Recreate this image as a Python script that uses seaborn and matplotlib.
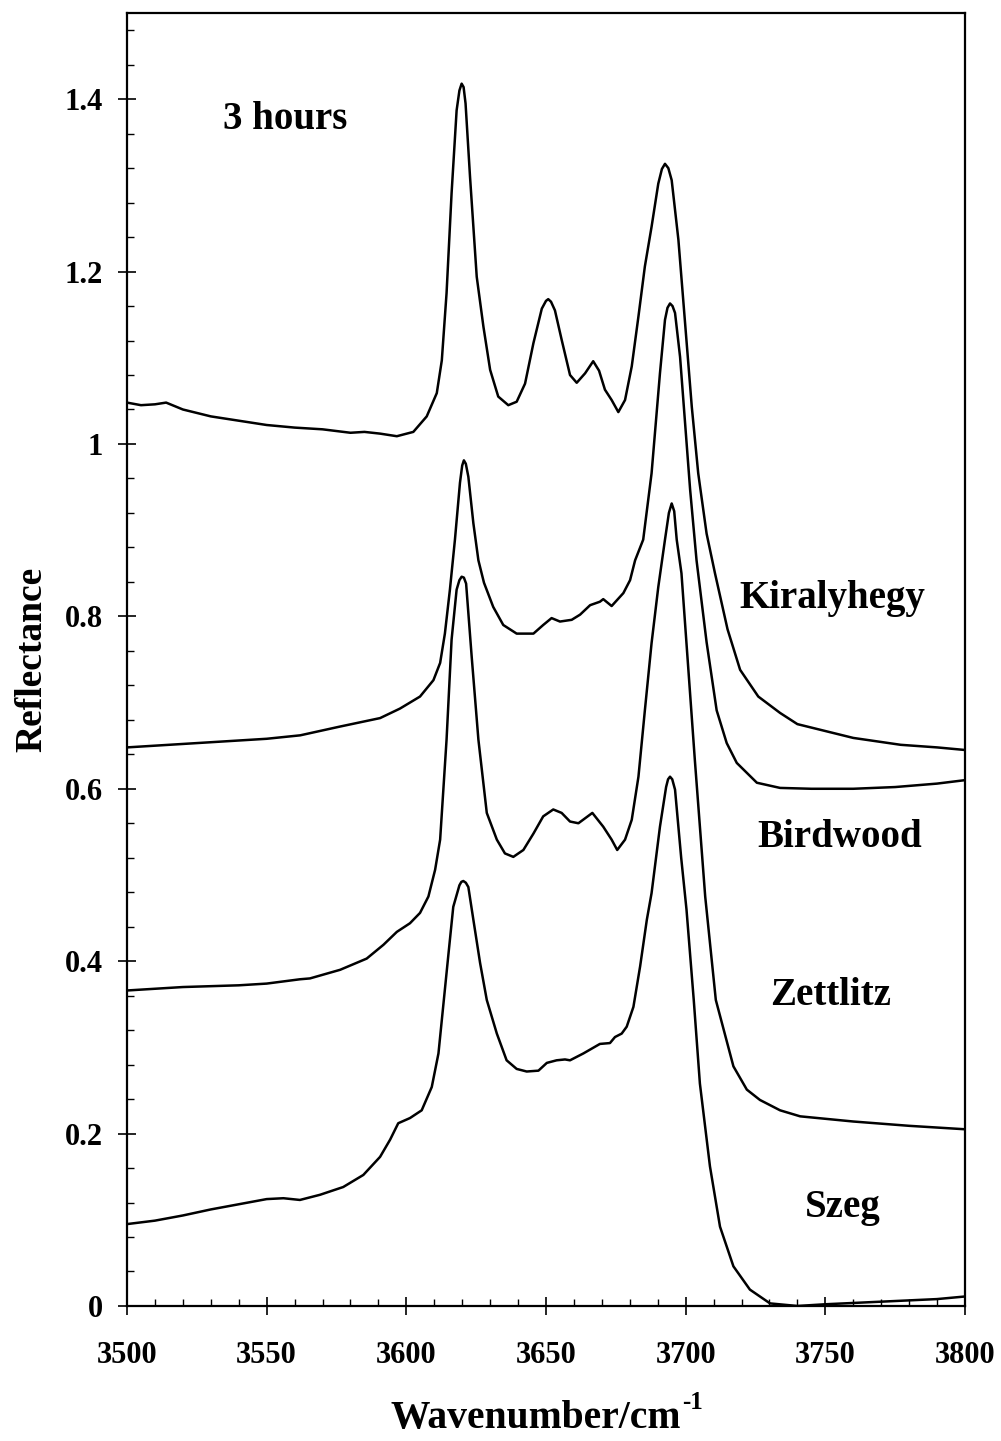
# IR reflectance spectra of kaolinites after 3 hours - recreated with seaborn
import pandas as pd
import numpy as np
import matplotlib
matplotlib.use('Agg')
import matplotlib.pyplot as plt
from matplotlib.ticker import MultipleLocator, FixedLocator, FixedFormatter
import seaborn as sns

# ============================================
# DATA
# ============================================
kiraly_wn = [3500, 3505, 3510, 3514, 3520, 3525, 3530, 3540, 3550, 3560, 3570, 3580, 3585,
             3590.6, 3596.6, 3602.5, 3607.3, 3610.9, 3612.7, 3614.4, 3616.2, 3618.0, 3619.0,
             3619.8, 3620.5, 3621.2, 3622.8, 3625.2, 3627.6, 3630.0, 3632.9, 3636.5, 3639.5,
             3642.5, 3645.5, 3648.5, 3650.0, 3650.8, 3651.8, 3653.2, 3655.6, 3658.6, 3661.0,
             3664.0, 3666.9, 3669.0, 3671.1, 3673.5, 3675.9, 3678.3, 3680.7, 3683.1, 3685.4,
             3687.8, 3690.2, 3691.5, 3692.6, 3693.8, 3695.0, 3697.4, 3699.8, 3702.2, 3704.5,
             3707.5, 3710.5, 3715.0, 3719.5, 3726.0, 3733.8, 3740, 3750, 3760, 3777, 3790, 3800]
kiraly_r = [1.048, 1.045, 1.046, 1.048, 1.040, 1.036, 1.032, 1.027, 1.022, 1.019, 1.017, 1.013, 1.014,
            1.012, 1.009, 1.014, 1.032, 1.059, 1.097, 1.175, 1.291, 1.387, 1.410,
            1.418, 1.414, 1.395, 1.310, 1.194, 1.136, 1.086, 1.055, 1.045, 1.049,
            1.070, 1.117, 1.157, 1.166, 1.168, 1.165, 1.155, 1.121, 1.080, 1.071,
            1.082, 1.096, 1.085, 1.063, 1.051, 1.037, 1.051, 1.090, 1.148, 1.206,
            1.252, 1.302, 1.319, 1.325, 1.320, 1.306, 1.237, 1.140, 1.043, 0.966,
            0.896, 0.850, 0.785, 0.738, 0.707, 0.688, 0.675, 0.667, 0.659, 0.651, 0.648, 0.645]

bird_wn = [3500, 3510, 3520, 3530, 3540, 3550, 3562, 3576, 3590.6, 3597.7, 3604.9, 3609.7,
           3612.1, 3613.8, 3615.6, 3617.4, 3619.2, 3620.0, 3620.6, 3621.3, 3622.2, 3624.0,
           3625.8, 3627.8, 3631.1, 3634.7, 3639.5, 3645.5, 3649.0, 3652.0, 3655.0, 3659.2,
           3662.2, 3665.8, 3669.3, 3670.5, 3673.5, 3677.7, 3680.1, 3681.9, 3684.8, 3687.8,
           3690.8, 3692.6, 3693.5, 3694.4, 3695.3, 3696.2, 3698.0, 3699.8, 3701.6, 3703.9,
           3707.5, 3711.1, 3714.7, 3718.3, 3725.5, 3733.8, 3745, 3760, 3775, 3790, 3800]
bird_r = [0.648, 0.650, 0.652, 0.654, 0.656, 0.658, 0.662, 0.672, 0.682, 0.693, 0.707, 0.726,
          0.746, 0.780, 0.831, 0.889, 0.955, 0.975, 0.981, 0.977, 0.962, 0.908,
          0.865, 0.839, 0.811, 0.790, 0.780, 0.780, 0.790, 0.798, 0.794, 0.796,
          0.802, 0.813, 0.817, 0.820, 0.812, 0.827, 0.842, 0.865, 0.889, 0.966,
          1.082, 1.144, 1.158, 1.163, 1.160, 1.152, 1.101, 1.024, 0.947, 0.865,
          0.770, 0.691, 0.653, 0.630, 0.607, 0.601, 0.600, 0.600, 0.602, 0.606, 0.610]

zett_wn = [3500, 3510, 3520, 3530, 3540, 3550, 3561.9, 3565.5, 3576.3, 3585.8, 3591.8, 3596.6,
           3601.3, 3604.9, 3607.9, 3610.3, 3612.1, 3614.4, 3616.2, 3618.0, 3619.0, 3619.8,
           3620.6, 3621.4, 3623.4, 3625.8, 3628.8, 3632.4, 3635.3, 3638.3, 3641.9, 3645.5,
           3649.0, 3652.6, 3655.6, 3658.6, 3661.6, 3666.6, 3670.5, 3673.5, 3675.5, 3678.3,
           3680.7, 3683.1, 3685.4, 3687.8, 3690.2, 3692.6, 3694.0, 3695.0, 3695.9, 3696.8,
           3698.5, 3703.3, 3707.0, 3710.8, 3717.1, 3721.9, 3726.6, 3733.8, 3741, 3760, 3780, 3800]
zett_r = [0.366, 0.368, 0.370, 0.371, 0.372, 0.374, 0.379, 0.380, 0.390, 0.403, 0.419, 0.434,
          0.444, 0.456, 0.475, 0.506, 0.541, 0.657, 0.773, 0.831, 0.842, 0.846,
          0.845, 0.838, 0.753, 0.657, 0.572, 0.541, 0.525, 0.521, 0.529, 0.548,
          0.568, 0.576, 0.572, 0.562, 0.560, 0.572, 0.556, 0.541, 0.529, 0.541,
          0.564, 0.614, 0.691, 0.769, 0.834, 0.889, 0.920, 0.931, 0.922, 0.889,
          0.850, 0.633, 0.475, 0.355, 0.278, 0.251, 0.239, 0.227, 0.220, 0.214, 0.209, 0.205]

szeg_wn = [3500, 3510, 3520, 3530, 3540, 3550, 3556, 3561.9, 3569.1, 3577.4, 3584.6, 3590.6,
           3594.2, 3597.1, 3601.3, 3605.5, 3609.1, 3611.5, 3613.3, 3615.1, 3616.8, 3619.0,
           3619.7, 3620.4, 3621.3, 3622.2, 3624.0, 3626.4, 3628.8, 3632.4, 3635.9, 3639.5,
           3643.1, 3647.3, 3650.3, 3653.8, 3656.8, 3658.6, 3663.4, 3669.3, 3672.9, 3674.7,
           3677.1, 3678.9, 3681.3, 3683.7, 3686.1, 3687.8, 3690.8, 3693.0, 3693.7, 3694.4,
           3695.2, 3696.2, 3698.4, 3700.3, 3702.9, 3705.1, 3708.7, 3712.3, 3717.1, 3723.0,
           3730.2, 3740, 3750, 3770, 3790, 3800]
szeg_r = [0.095, 0.099, 0.105, 0.112, 0.118, 0.124, 0.125, 0.123, 0.129, 0.138, 0.152, 0.173,
          0.193, 0.212, 0.218, 0.227, 0.254, 0.293, 0.351, 0.409, 0.463, 0.488,
          0.492, 0.493, 0.491, 0.486, 0.448, 0.398, 0.355, 0.316, 0.285, 0.275,
          0.272, 0.273, 0.282, 0.285, 0.286, 0.285, 0.293, 0.304, 0.305, 0.312,
          0.316, 0.324, 0.347, 0.394, 0.448, 0.479, 0.556, 0.602, 0.611, 0.614,
          0.611, 0.599, 0.520, 0.460, 0.355, 0.258, 0.162, 0.092, 0.046, 0.019,
          0.003, 0.000, 0.002, 0.005, 0.008, 0.011]

sample_names = ['Kiralyhegy', 'Birdwood', 'Zettlitz', 'Szeg']
label_x = [3752.4, 3755.3, 3752.0, 3756.3]
label_y = [0.821, 0.543, 0.360, 0.114]

y_major = [0, 0.2, 0.4, 0.6, 0.8, 1.0, 1.2, 1.4]
y_major_labels = ['0', '0.2', '0.4', '0.6', '0.8', '1', '1.2', '1.4']

# long table for seaborn
df = pd.concat([
    pd.DataFrame({'sample': 'Kiralyhegy', 'wn': kiraly_wn, 'r': kiraly_r}),
    pd.DataFrame({'sample': 'Birdwood', 'wn': bird_wn, 'r': bird_r}),
    pd.DataFrame({'sample': 'Zettlitz', 'wn': zett_wn, 'r': zett_r}),
    pd.DataFrame({'sample': 'Szeg', 'wn': szeg_wn, 'r': szeg_r}),
], ignore_index=True)

# ============================================
# STYLE
# ============================================
sns.set_style('ticks')
plt.rcParams['font.family'] = ['Liberation Serif', 'DejaVu Serif']
plt.rcParams['font.weight'] = 'bold'
plt.rcParams['text.color'] = 'black'
plt.rcParams['axes.labelcolor'] = 'black'
plt.rcParams['xtick.color'] = 'black'
plt.rcParams['ytick.color'] = 'black'

fig = plt.figure(figsize=(10.01, 14.41), dpi=100)
ax = fig.add_axes([0.1269, 0.0937, 0.964 - 0.1269, 0.991 - 0.0937])

sns.lineplot(data=df, x='wn', y='r', units='sample', estimator=None, sort=False,
             color='black', linewidth=1.8, ax=ax, legend=False,
             solid_joinstyle='round', solid_capstyle='round')

ax.set_xlim(3500, 3800)
ax.set_ylim(0, 1.5)

ax.xaxis.set_major_locator(MultipleLocator(50))
ax.xaxis.set_minor_locator(MultipleLocator(10))
ax.yaxis.set_major_locator(FixedLocator(y_major))
ax.yaxis.set_major_formatter(FixedFormatter(y_major_labels))
ax.yaxis.set_minor_locator(MultipleLocator(0.04))

ax.tick_params(which='major', direction='inout', length=13, width=1.2, labelsize=22, colors='black')
ax.tick_params(axis='x', which='major', pad=19)
ax.tick_params(axis='y', which='major', pad=11)
ax.tick_params(which='minor', direction='in', length=5, width=1.0, colors='black')
for lbl in ax.get_xticklabels() + ax.get_yticklabels():
    lbl.set_fontweight('bold')

for s in ax.spines.values():
    s.set_linewidth(1.6)
    s.set_color('black')

ax.set_xlabel('Wavenumber/cm', fontsize=28.5, fontweight='bold', labelpad=21)
ax.xaxis.label.set_x(0.488)
ax.annotate('-1', xy=(1.0, 0.62), xycoords=ax.xaxis.label, xytext=(1, 0),
            textcoords='offset points', fontsize=18, fontweight='bold',
            ha='left', va='bottom')
ax.set_ylabel('Reflectance', fontsize=27, fontweight='bold', labelpad=11)

ax.text(3556.6, 1.376, '3 hours', fontsize=28, fontweight='bold', ha='center', va='center')
for name, lx, ly in zip(sample_names, label_x, label_y):
    ax.text(lx, ly, name, fontsize=28, fontweight='bold', ha='center', va='center')

plt.savefig('out.png', dpi=100)
